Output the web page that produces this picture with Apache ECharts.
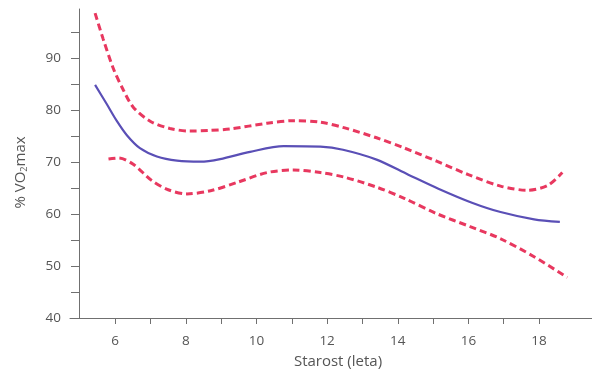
<!DOCTYPE html>
<html>
<head>
<meta charset="utf-8">
<script src="https://cdn.jsdelivr.net/npm/echarts@6/dist/echarts.min.js"></script>
<style>
  html, body { margin: 0; padding: 0; background: #fff; }
  #chart { width: 592px; height: 374px; }
</style>
</head>
<body>
<div id="chart"></div>
<script>
// readings from the picture (age in years, % VO2max)
const meanAge = [5.43, 5.76, 6.04, 6.33, 6.7, 7.18, 7.75, 8.41, 8.97, 9.82, 10.77, 11.81, 12.45, 13.4, 14.3, 15.15, 16.1, 16.91, 17.86, 18.59];
const meanVal = [84.9, 81.2, 78.0, 75.2, 72.7, 71.1, 70.3, 70.1, 70.6, 72.0, 73.1, 73.0, 72.4, 70.5, 67.6, 64.9, 62.2, 60.4, 59.0, 58.5];

const upperAge = [5.43, 5.66, 5.95, 6.23, 6.51, 6.99, 7.55, 8.12, 8.64, 9.26, 10.3, 11.05, 11.81, 12.5, 13.4, 14.2, 15.1, 16.0, 16.91, 17.67, 18.24, 18.66];
const upperVal = [98.7, 93.7, 88.0, 83.9, 80.6, 77.9, 76.5, 76.0, 76.1, 76.4, 77.5, 78.0, 77.7, 76.6, 74.7, 72.7, 70.2, 67.6, 65.4, 64.6, 65.5, 68.0];

const lowerAge = [5.81, 6.09, 6.51, 7.03, 7.5, 8.03, 8.7, 9.45, 10.3, 11.05, 11.81, 12.5, 13.4, 14.2, 15.1, 16.05, 16.9, 17.86, 18.8];
const lowerVal = [70.6, 70.8, 69.6, 66.5, 64.7, 63.9, 64.5, 66.1, 68.0, 68.5, 68.0, 67.1, 65.2, 63.0, 60.1, 57.6, 55.3, 51.8, 47.8];

const xTicks = [6, 7, 8, 9, 10, 11, 12, 13, 14, 15, 16, 17, 18];
const xLabels = [6, 8, 10, 12, 14, 16, 18];
const yTicks = [40, 45, 50, 55, 60, 65, 70, 75, 80, 85, 90, 95];
const yLabels = [40, 50, 60, 70, 80, 90];

const pairs = (xs, ys) => xs.map((x, i) => [x, ys[i]]);

const chart = echarts.init(document.getElementById('chart'));
const axisColor = '#707070';
const textColor = '#555';
const font = 'Open Sans';
const red = '#e8385f';

chart.setOption({
    animation: false,
    grid: { left: 70, right: 0, top: 9, bottom: 51 },
    xAxis: {
        type: 'value',
        min: 4.72,
        max: 19.5,
        name: 'Starost (leta)',
        nameLocation: 'middle',
        nameGap: 36,
        nameTextStyle: { color: textColor, fontFamily: font, fontSize: 15, padding: [0, 0, 0, 14] },
        axisLine: { lineStyle: { color: axisColor, width: 1 } },
        axisTick: { show: true, length: 6, customValues: xTicks, lineStyle: { color: axisColor } },
        axisLabel: { customValues: xLabels, color: textColor, fontFamily: font, fontSize: 13.5, margin: 16 },
        splitLine: { show: false }
    },
    yAxis: {
        type: 'value',
        min: 40,
        max: 99.5,
        offset: -9,
        name: '{a|% VO}{s|2}{a|max}',
        nameLocation: 'middle',
        nameGap: 50,
        nameTextStyle: {
            padding: [0, 18, 0, 0],
            rich: {
                a: { color: textColor, fontFamily: font, fontSize: 15 },
                s: { color: textColor, fontFamily: font, fontSize: 9, verticalAlign: 'bottom', padding: [7, 0, 0, 0] }
            }
        },
        axisLine: { show: true, lineStyle: { color: axisColor, width: 1 } },
        axisTick: { show: true, length: 8, customValues: yTicks, lineStyle: { color: axisColor } },
        axisLabel: { customValues: yLabels, color: textColor, fontFamily: font, fontSize: 13.5, margin: 18 },
        splitLine: { show: false }
    },
    series: [
        {
            name: 'upper',
            type: 'line',
            data: pairs(upperAge, upperVal),
            smooth: 0.3,
            showSymbol: false,
            lineStyle: { color: red, width: 3, type: [7, 4] }
        },
        {
            name: 'lower',
            type: 'line',
            data: pairs(lowerAge, lowerVal),
            smooth: 0.3,
            showSymbol: false,
            lineStyle: { color: red, width: 3, type: [7, 4] }
        },
        {
            name: 'mean',
            type: 'line',
            data: pairs(meanAge, meanVal),
            smooth: 0.3,
            showSymbol: false,
            lineStyle: { color: '#5a4fb6', width: 2.2 }
        }
    ]
});
</script>
</body>
</html>
